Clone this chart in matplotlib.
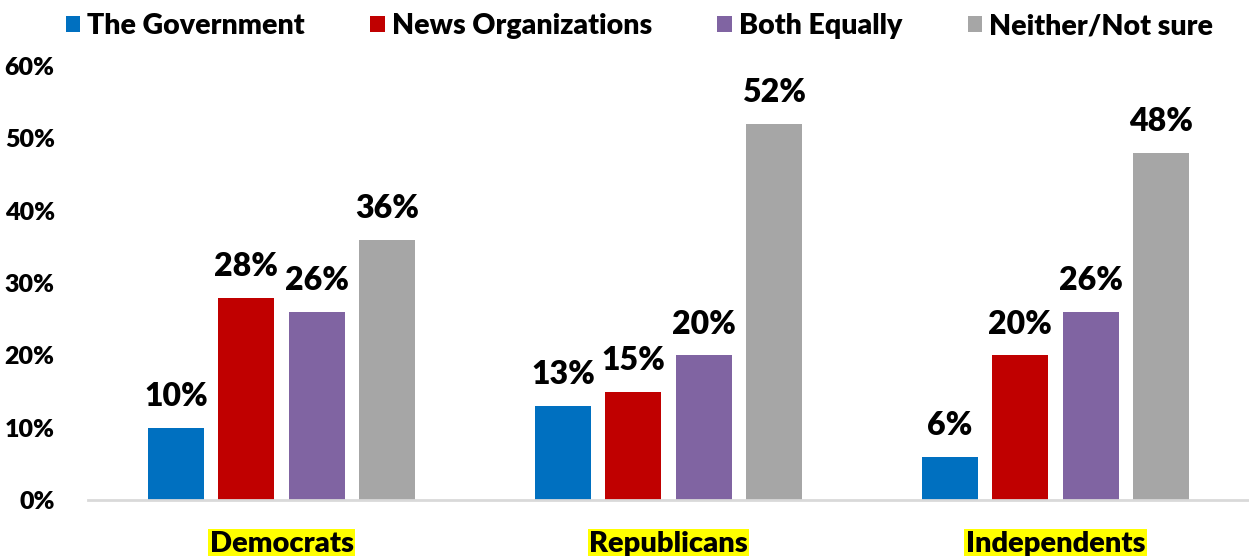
import numpy as np
from matplotlib import pyplot as plt

groups = ["Democrats", "Republicans", "Independents"]
series = ["The Government", "News Organizations", "Both Equally", "Neither/Not sure"]
government = [10, 13, 6]
news_orgs = [28, 15, 20]
both_equally = [26, 20, 26]
neither = [36, 52, 48]
colors = ["#0070C0", "#C00000", "#8064A2", "#A6A6A6"]

plt.rcParams['font.family'] = ['Lato', 'DejaVu Sans']
W = 'heavy'

fig = plt.figure(figsize=(12.49, 5.56), dpi=100)
ax = fig.add_axes([0.0705, 0.1007, 0.9295, 0.7803])

x = np.arange(len(groups))
width = 0.145
step = 0.182
values = [government, news_orgs, both_equally, neither]
for i, (name, vals, c) in enumerate(zip(series, values, colors)):
    pos = x + (i - 1.5) * step
    bars = ax.bar(pos, vals, width=width, color=c, label=name)
    for b, v in zip(bars, vals):
        ax.text(b.get_x() + b.get_width() / 2, v + 2.3, f"{v}%", ha='center', va='bottom',
                fontsize=23, fontweight=W)

ax.set_xlim(-0.5, 2.5)
ax.set_ylim(0, 60)
ax.set_yticks(range(0, 61, 10))
ax.set_yticklabels([f"{t}%" for t in range(0, 61, 10)], fontsize=18, fontweight=W)
ax.set_xticks(x)
ax.set_xticklabels(groups, fontsize=21, fontweight=W)
for lab in ax.get_xticklabels():
    lab.set_bbox(dict(facecolor='#FFFF00', edgecolor='none', pad=1))
ax.tick_params(axis='both', length=0)
ax.tick_params(axis='x', pad=22)
ax.tick_params(axis='y', pad=24)

for s in ['top', 'right', 'left']:
    ax.spines[s].set_visible(False)
ax.spines['bottom'].set_color('#D9D9D9')
ax.spines['bottom'].set_linewidth(2)

fig.legend(loc='center', bbox_to_anchor=(0.512, 0.953), ncol=4, frameon=False,
           prop={'size': 20.5, 'weight': W}, handlelength=0.5, handleheight=0.5,
           handletextpad=0.25, columnspacing=2.3)

fig.savefig('out.png', dpi=100)
